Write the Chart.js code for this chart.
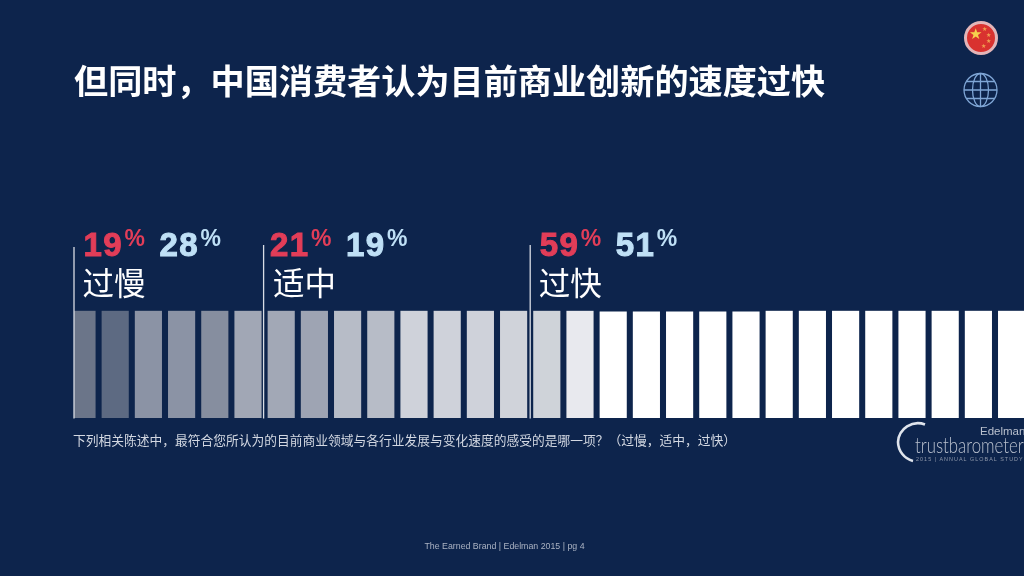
<!DOCTYPE html>
<html lang="zh">
<head>
<meta charset="utf-8">
<title>The Earned Brand</title>
<script src="https://cdn.jsdelivr.net/npm/chart.js@4/dist/chart.umd.min.js"></script>
<style>
  html, body { margin: 0; padding: 0; background: #0d244c; overflow: hidden; }
  #slide { position: relative; width: 1024px; height: 576px; overflow: hidden; background: #0d244c; }
  #myChart { position: absolute; left: 0; top: 0; }
  .txt { position: absolute; white-space: nowrap; }
  #title { left: 74px; top: 55px; font: 700 34.15px/48px "Noto Sans CJK SC", sans-serif; color: #fff; }
  #note { left: 73px; top: 431px; font: 400 12.75px/18px "Noto Sans CJK SC", sans-serif; color: #d3d8e2; }
  #footer { left: 0; width: 1009px; text-align: center; top: 540px; font: 400 8.8px/12px "Liberation Sans", sans-serif; color: #aab2c2; }
  #edelman { left: 980px; top: 424px; font: 400 11.5px/14px "Liberation Sans", sans-serif; color: #b9c0ce; }
  #trust { left: 915px; top: 432px; font: 300 21px/26px "Lato", sans-serif; color: #b9c0ce; transform: scaleX(.8); transform-origin: left; }
  #study { left: 916px; top: 455px; font: 400 5.4px/8px "Liberation Sans", sans-serif; color: #8f98aa; letter-spacing: 1.05px; }
  svg { position: absolute; }
</style>
</head>
<body>
<div id="slide">
  <canvas id="myChart" width="1029" height="576"></canvas>
  <div class="txt" id="title">但同时，中国消费者认为目前商业创新的速度过快</div>
  <div class="txt" id="note">下列相关陈述中，最符合您所认为的目前商业领域与各行业发展与变化速度的感受的是哪一项？（过慢，适中，过快）</div>
  <div class="txt" id="footer">The Earned Brand | Edelman 2015 | pg 4</div>
  <div class="txt" id="edelman">Edelman</div>
  <div class="txt" id="trust">trustbarometer</div>
  <div class="txt" id="study">2015 | ANNUAL GLOBAL STUDY</div>

  <!-- china flag -->
  <svg style="left:960px;top:18px" width="42" height="42" viewBox="0 0 42 42">
    <circle cx="21" cy="20" r="15.5" fill="#d9322f" stroke="#e3b5b8" stroke-width="3"/>
    <text x="9" y="21" font-size="15" fill="#f6d04d" font-family="DejaVu Sans">★</text>
    <text x="22" y="13" font-size="6" fill="#f0a050" font-family="DejaVu Sans">★</text>
    <text x="26" y="19" font-size="6" fill="#f0a050" font-family="DejaVu Sans">★</text>
    <text x="26" y="25" font-size="6" fill="#f0a050" font-family="DejaVu Sans">★</text>
    <text x="21" y="30" font-size="6" fill="#f0a050" font-family="DejaVu Sans">★</text>
  </svg>
  <!-- globe -->
  <svg style="left:960px;top:70px" width="42" height="42" viewBox="0 0 42 42" fill="none" stroke="#7fa6d6" stroke-width="1.3">
    <circle cx="20.5" cy="20" r="16.5"/>
    <ellipse cx="20.5" cy="20" rx="8" ry="16.5"/>
    <path d="M20.5 3.5V36.5M4 20H37M6.5 11.5H34.5M6.5 28.5H34.5"/>
  </svg>
  <!-- trustbarometer ring -->
  <svg style="left:890px;top:416px" width="60" height="56" viewBox="0 0 60 56" fill="none">
    <path d="M35 8.5A20 20 0 0 0 8 26A20 20 0 0 0 23 45" stroke="#dfe4ec" stroke-width="2.6"/>
  </svg>
</div>

<script>
  // one entry per bar, 29 bars across the slide
  const barCategories = [
    "1", "2", "3", "4", "5", "6", "7", "8", "9", "10",
    "11", "12", "13", "14", "15", "16", "17", "18", "19", "20",
    "21", "22", "23", "24", "25", "26", "27", "28", "29",
  ];
  const barValues = [
    100, 100, 100, 100, 100, 100, 100, 100, 100, 100,
    100, 100, 100, 100, 100, 100, 99, 99, 99, 99,
    99, 100, 100, 100, 100, 100, 100, 100, 100,
  ];

  const groupLabels = ["过慢", "适中", "过快"];
  const chinaPercent = [19, 21, 59];
  const globalPercent = [28, 19, 51];
  const groupFirstBar = [0, 6, 14];

  const barColors = [
    "#6b7589", "#5d6a82", "#8b93a5", "#8b93a5", "#868e9f", "#a1a7b5",
    "#a2a8b6", "#9ea4b3", "#b7bcc7", "#b7bcc7", "#cfd2da", "#cfd2da",
    "#cfd2da", "#d0d3da", "#cfd3d9", "#e8e9ee",
    "#ffffff", "#ffffff", "#ffffff", "#ffffff", "#ffffff", "#ffffff", "#ffffff",
    "#ffffff", "#ffffff", "#ffffff", "#ffffff", "#ffffff", "#ffffff",
  ];

  const firstBarInset = 8.6; // first bar is cut off by the first divider

  // dividers, percentages and the group names above the bars
  const groupHeaders = {
    id: "groupHeaders",
    afterDatasetsDraw(chart) {
      const ctx = chart.ctx;
      const x = chart.scales.x;
      const step = x.getPixelForValue(1) - x.getPixelForValue(0);
      const numberFont = 'bold 33px "Liberation Sans", sans-serif';
      const percentFont = 'bold 23px "Liberation Sans", sans-serif';

      groupLabels.forEach((label, i) => {
        let lineX = x.getPixelForValue(groupFirstBar[i]) - step / 2;
        if (i === 0) lineX += firstBarInset;
        if (i === 1) lineX -= 1;

        ctx.save();
        ctx.strokeStyle = "#d8dce4";
        ctx.lineWidth = 1.3;
        ctx.beginPath();
        ctx.moveTo(lineX, i === 0 ? 247 : 245);
        ctx.lineTo(lineX, 418.5);
        ctx.stroke();

        // china number then global number
        const numLeft = lineX + (i === 1 ? 6.4 : 9.5);
        const pairs = [
          [chinaPercent[i], "#e23d58", numLeft],
          [globalPercent[i], "#bfe0f6", numLeft + 76],
        ];
        ctx.textAlign = "left";
        ctx.textBaseline = "alphabetic";
        pairs.forEach(([value, color, left]) => {
          ctx.fillStyle = color;
          ctx.strokeStyle = color;
          ctx.lineWidth = 1;
          ctx.font = numberFont;
          ctx.letterSpacing = "1.5px";
          ctx.strokeText(String(value), left, 255.5);
          ctx.fillText(String(value), left, 255.5);
          ctx.letterSpacing = "0px";
          ctx.font = percentFont;
          ctx.fillText("%", left + 41, 246);
        });

        ctx.fillStyle = "#ffffff";
        ctx.font = '400 31.5px "Noto Sans CJK SC", sans-serif';
        ctx.fillText(label, lineX + (i === 1 ? 9.4 : 8.5), 295);
        ctx.restore();
      });
    },
  };

  const chart = document.getElementById("myChart").getContext("2d");

  const myBarChart = new Chart(chart, {
    type: "bar",
    data: {
      labels: barCategories,
      datasets: [
        {
          label: "bars",
          data: barValues,
          backgroundColor: barColors,
          borderWidth: 0,
          barThickness: 26.5,
          clip: { left: -firstBarInset, top: 0, right: 0, bottom: 0 },
        },
      ],
    },
    options: {
      responsive: false,
      animation: false,
      layout: { padding: { left: 65.4, right: 0.8, top: 310.7, bottom: 158 } },
      scales: {
        x: { display: false },
        y: { display: false, min: 0, max: 100 },
      },
      plugins: {
        legend: { display: false },
        tooltip: { enabled: false },
      },
    },
    plugins: [groupHeaders],
  });
</script>
</body>
</html>
